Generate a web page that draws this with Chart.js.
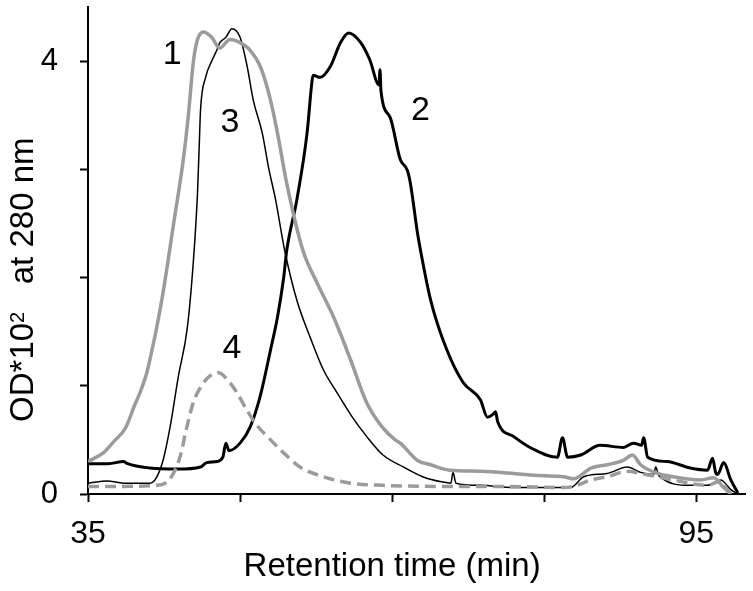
<!DOCTYPE html>
<html>
<head>
<meta charset="utf-8">
<script src="https://cdn.jsdelivr.net/npm/chart.js@4/dist/chart.umd.min.js"></script>
<style>
  html, body { margin: 0; padding: 0; background: #fff; }
  #wrap { width: 753px; height: 591px; }
</style>
</head>
<body>
<div id="wrap"><canvas id="chart"></canvas></div>
<script>
// retention time (min), OD*10^2
const curve1 = [
  [35, 0.30], [36.5, 0.38], [37.5, 0.48], [38.7, 0.61], [39.6, 0.82], [40.1, 0.93],
  [40.8, 1.12], [41.1, 1.24], [41.8, 1.55], [42.4, 1.86], [43.4, 2.47], [44.4, 3.09],
  [44.9, 3.5], [45.4, 4.0], [45.8, 4.2], [46.4, 4.27], [47.2, 4.22], [48.0, 4.12],
  [49.0, 4.20], [49.8, 4.18], [51.0, 4.10], [52.0, 3.95], [53.0, 3.64], [53.7, 3.33],
  [54.6, 2.87], [56.2, 2.25], [57.6, 1.95], [59.2, 1.64], [60.9, 1.24], [62.5, 0.84],
  [64.0, 0.62], [65.3, 0.50], [65.8, 0.47], [67.5, 0.31], [68.8, 0.27], [70.7, 0.22],
  [73.7, 0.21], [77.0, 0.19], [79.6, 0.17], [81.9, 0.16], [82.9, 0.14], [84.6, 0.24],
  [86.2, 0.27], [87.8, 0.31], [88.7, 0.36], [89.5, 0.27], [91.2, 0.19], [92.7, 0.16],
  [95.4, 0.13], [96.7, 0.15], [97.7, 0.06], [98.4, 0]
]
const curve2 = [
  [35, 0.28], [37, 0.28], [38.5, 0.30], [38.9, 0.28], [41.1, 0.24], [43.8, 0.23],
  [46.1, 0.25], [46.7, 0.29], [47.7, 0.30], [48.3, 0.34], [48.6, 0.47], [48.9, 0.40],
  [50.0, 0.47], [51.0, 0.62], [52.0, 0.91], [53.0, 1.33], [53.7, 1.64], [54.3, 2.0],
  [54.6, 2.25], [55.6, 2.72], [56.6, 3.33], [57.1, 3.82], [57.2, 3.87], [57.9, 3.85],
  [58.9, 3.95], [59.9, 4.17], [60.7, 4.26], [61.9, 4.17], [62.8, 4.01], [63.7, 3.78],
  [63.8, 3.92], [63.9, 3.72], [64.8, 3.48], [65.8, 3.09], [66.5, 2.99], [66.8, 2.87],
  [67.5, 2.41], [67.8, 2.25], [68.8, 1.79], [70.4, 1.33], [72.0, 1.03], [73.7, 0.87],
  [74.4, 0.71], [75.0, 0.74], [75.2, 0.76], [75.4, 0.67], [77.0, 0.53], [78.6, 0.43],
  [81.3, 0.34], [81.8, 0.52], [82.3, 0.34], [83.6, 0.36], [85.5, 0.45], [87.8, 0.43],
  [88.8, 0.47], [89.6, 0.45], [89.8, 0.52], [90.2, 0.34], [92.1, 0.30], [94.4, 0.24],
  [96.1, 0.22], [96.6, 0.33], [96.9, 0.20], [97.1, 0.18], [97.7, 0.29], [98.4, 0.13],
  [99.1, 0.01]
]
const curve3 = [
  [35, 0.10], [36.9, 0.12], [38.5, 0.10], [41.1, 0.10], [41.6, 0.13], [42.0, 0.20],
  [42.4, 0.31], [43.1, 0.62], [43.9, 1.08], [44.8, 1.54], [45.4, 2.16], [45.8, 2.78],
  [46.0, 3.3], [46.1, 3.55], [46.6, 3.85], [47.2, 4.0], [47.7, 4.10], [48.0, 4.17],
  [48.6, 4.22], [49.2, 4.30], [50.0, 4.22], [50.7, 3.95], [51.3, 3.64], [52.2, 3.33],
  [52.8, 3.02], [53.5, 2.72], [54.4, 2.25], [55.6, 1.79], [56.9, 1.45], [58.2, 1.15],
  [59.6, 0.93], [61.0, 0.72], [62.5, 0.53], [64.1, 0.36], [66.1, 0.25], [68.0, 0.16],
  [70.0, 0.11], [70.8, 0.10], [71.0, 0.20], [71.3, 0.10], [73.7, 0.08], [77.0, 0.06],
  [82.6, 0.06], [83.9, 0.16], [86.2, 0.19], [88.2, 0.25], [89.5, 0.20], [90.8, 0.18],
  [91.0, 0.25], [91.3, 0.17], [94.4, 0.08], [96.1, 0.08], [97.4, 0.13], [98.4, 0.04],
  [99.1, 0]
]
const curve4 = [
  [35, 0.07], [38, 0.07], [41.8, 0.08], [42.6, 0.10], [43.3, 0.17], [44.1, 0.35],
  [44.7, 0.60], [45.4, 0.85], [46.2, 1.00], [47.0, 1.09], [47.9, 1.12], [48.8, 1.05],
  [49.6, 0.95], [50.7, 0.77], [51.7, 0.63], [52.7, 0.53], [54.3, 0.38], [55.9, 0.25],
  [58.2, 0.16], [60.9, 0.10], [64.1, 0.08], [70, 0.07], [76, 0.07], [82, 0.06],
  [83.2, 0.08], [84.6, 0.13], [86.2, 0.16], [88.2, 0.21], [89.5, 0.19], [92.7, 0.13],
  [96.1, 0.08], [97.4, 0.12], [98.0, 0.05], [98.4, 0]
]

const xTicks = [35, 50, 65, 80, 95]
const xTickLabels = ['35', '', '', '', '95']
const yTicks = [0, 1, 2, 3, 4]
const yTickLabels = ['0', '', '', '', '4']

const peakLabels = ['1', '3', '2', '4']
const peakLabelX = [43.3, 49.0, 67.8, 49.2]
const peakLabelY = [4.06, 3.43, 3.54, 1.34]

const xTitle = 'Retention time (min)'
// y title: OD*10^2 at 280 nm, the "2" is a superscript
const yTitleParts = ['OD*10', '2', '   at 280 nm']

const FONT = '"Liberation Sans", Arial, Helvetica, sans-serif'
Chart.defaults.font.family = FONT
Chart.defaults.color = '#000'

const toPoints = (arr) => arr.map((p) => ({ x: p[0], y: p[1] }))

// peak numbers and axis titles
const textPlugin = {
  id: 'textPlugin',
  afterDraw(chart) {
    const { ctx } = chart
    const x = chart.scales.x
    const y = chart.scales.y
    ctx.save()
    ctx.fillStyle = '#000'
    ctx.textAlign = 'center'
    ctx.textBaseline = 'middle'
    ctx.font = '34px ' + FONT
    peakLabels.forEach((txt, i) => {
      ctx.fillText(txt, x.getPixelForValue(peakLabelX[i]), y.getPixelForValue(peakLabelY[i]))
    })

    ctx.font = '33px ' + FONT
    ctx.fillText(xTitle, x.getPixelForValue(65), chart.height - 24)

    // rotated y title with a raised small 2
    const big = '33px ' + FONT
    const small = '20px ' + FONT
    ctx.textAlign = 'left'
    ctx.textBaseline = 'alphabetic'
    ctx.font = big
    const w0 = ctx.measureText(yTitleParts[0]).width
    const w2 = ctx.measureText(yTitleParts[2]).width
    ctx.font = small
    const w1 = ctx.measureText(yTitleParts[1]).width
    const total = w0 + w1 + w2
    ctx.translate(33, y.getPixelForValue(1.98))
    ctx.rotate(-Math.PI / 2)
    let u = -total / 2
    ctx.font = big
    ctx.fillText(yTitleParts[0], u, 0)
    u += w0
    ctx.font = small
    ctx.fillText(yTitleParts[1], u, -9)
    u += w1
    ctx.font = big
    ctx.fillText(yTitleParts[2], u, 0)
    ctx.restore()
  },
}

// no extra room for half tick labels, the plot fills the frame
const noLabelPadding = (scale) => {
  scale.paddingTop = 0
  scale.paddingBottom = 0
  scale.paddingLeft = 0
  scale.paddingRight = 0
}

const ctx = document.getElementById('chart').getContext('2d')
new Chart(ctx, {
  type: 'line',
  data: {
    datasets: [
      {
        data: toPoints(curve4),
        borderColor: '#9b9b9b',
        borderWidth: 3.5,
        borderDash: [11, 6],
      },
      {
        data: toPoints(curve1),
        borderColor: '#9b9b9b',
        borderWidth: 3.5,
      },
      {
        data: toPoints(curve3),
        borderColor: '#000',
        borderWidth: 1.5,
      },
      {
        data: toPoints(curve2),
        borderColor: '#000',
        borderWidth: 3,
      },
    ],
  },
  options: {
    responsive: true,
    maintainAspectRatio: false,
    animation: false,
    elements: {
      point: { radius: 0 },
      line: { cubicInterpolationMode: 'monotone', fill: false },
    },
    layout: { padding: { top: 7, right: 8, left: 0, bottom: 0 } },
    plugins: {
      legend: { display: false },
      tooltip: { enabled: false },
    },
    scales: {
      x: {
        type: 'linear',
        min: 35,
        max: 99.8,
        afterBuildTicks: (scale) => {
          scale.ticks = xTicks.map((v) => ({ value: v }))
        },
        afterFit: (scale) => {
          scale.height = 97
          noLabelPadding(scale)
        },
        ticks: {
          autoSkip: false,
          maxRotation: 0,
          padding: 13,
          font: { size: 32 },
          callback: (value) => xTickLabels[xTicks.indexOf(value)] ?? '',
        },
        grid: {
          drawOnChartArea: false,
          drawTicks: true,
          tickLength: 8,
          tickColor: '#000',
          tickWidth: 2,
        },
        border: { display: true, color: '#000', width: 2 },
      },
      y: {
        type: 'linear',
        min: 0,
        max: 4.5,
        afterBuildTicks: (scale) => {
          scale.ticks = yTicks.map((v) => ({ value: v }))
        },
        afterFit: (scale) => {
          scale.width = 88
          noLabelPadding(scale)
        },
        ticks: {
          autoSkip: false,
          padding: 22,
          font: { size: 31 },
          callback: (value) => yTickLabels[yTicks.indexOf(value)] ?? '',
        },
        grid: {
          drawOnChartArea: false,
          drawTicks: true,
          tickLength: 8,
          tickColor: '#000',
          tickWidth: 2,
        },
        border: { display: true, color: '#000', width: 2 },
      },
    },
  },
  plugins: [textPlugin],
})
</script>
</body>
</html>
